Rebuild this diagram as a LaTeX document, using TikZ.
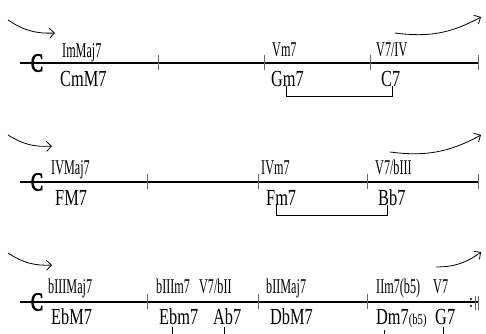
\documentclass[tikz,border=0pt]{standalone}
\usepackage{fontspec}
\setmainfont{Liberation Serif}
\newfontfamily\degreefont[FakeStretch=0.58]{Liberation Serif}
\newfontfamily\chordfont[FakeStretch=0.71]{Liberation Serif}
\newfontfamily\meterfont[FakeStretch=0.7,FakeBold=3]{Liberation Serif}
\usetikzlibrary{arrows.meta}

\tikzset{
  degree/.style={anchor=base west, inner sep=0pt, font=\degreefont\fontsize{21}{21}\selectfont},
  chord/.style={anchor=base west, inner sep=0pt, font=\chordfont\fontsize{23}{23}\selectfont},
  staff/.style={line width=1.3pt},
  barline/.style={line width=0.5pt, black!60},
  pair/.style={line width=0.8pt},
  flow/.style={-{Straight Barb[length=5pt,width=10pt]}, line width=0.8pt},
  meter/.style={inner sep=0pt, font=\meterfont\fontsize{26}{26}\selectfont}
}

\begin{document}
\begin{tikzpicture}[x=1pt, y=-1pt]
	\clip (0,0) rectangle (486,333);
	% first line
	\coordinate (s1a) at (20,63);
	\coordinate (s1b) at (478,63);
	\draw[staff] (s1a) -- (s1b);
	\node[meter] (ct1) at (37,63) {C};
	\foreach \x in {158,264,370,478} \draw[barline] (\x,55) -- (\x,70);
	\node[degree] (imaj) at (62,57) {ImMaj7};
	\node[chord] (cmm) at (60,86) {CmM7};
	\node[degree] (vm) at (272,56) {Vm7};
	\node[chord] (gm) at (271,86) {Gm7};
	\node[degree] (vofiv) at (376,56) {V7/IV};
	\node[chord] (cseven) at (381,86) {C7};
	\draw[pair] ([xshift=-1]gm.south) -- ++(0,10) -| ([xshift=2]cseven.south);
	\coordinate (in1) at (8,20);
	\coordinate (in1e) at (55,33);
	\coordinate (out1) at (395,33);
	\coordinate (out1e) at (481,17);
	\draw[flow] (in1) to[bend right=18] (in1e);
	\draw[flow] (out1) to[bend right=18] (out1e);

	% second line
	\coordinate (s2a) at (20,182);
	\coordinate (s2b) at (478,182);
	\draw[staff] (s2a) -- (s2b);
	\node[meter] (ct2) at (37,182) {C};
	\foreach \x in {147,258,367,478} \draw[barline] (\x,174) -- (\x,189);
	\node[degree] (ivmaj) at (51,174) {IVMaj7};
	\node[chord] (fmaj) at (55,205) {FM7};
	\node[degree] (ivm) at (261,174) {IVm7};
	\node[chord] (fm) at (266,205) {Fm7};
	\node[degree] (vofbiii) at (375,174) {V7/bIII};
	\node[chord] (bbseven) at (378,205) {Bb7};
	\draw[pair] ([xshift=-5]fm.south) -- ++(0,10) -| ([xshift=-4]bbseven.south);
	\coordinate (in2) at (8,135);
	\coordinate (in2e) at (52,146);
	\coordinate (out2) at (390,152);
	\coordinate (out2e) at (481,135);
	\draw[flow] (in2) to[bend right=18] (in2e);
	\draw[flow] (out2) to[bend right=18] (out2e);

	% third line
	\coordinate (s3a) at (20,302);
	\coordinate (s3b) at (478,302);
	\draw[staff] (s3a) -- (s3b);
	\node[meter] (ct3) at (37,302) {C};
	\foreach \x in {147,258,367} \draw[barline] (\x,294) -- (\x,309);
	\draw[barline] (475,296) -- (475,310);
	\draw[barline] (478,296) -- (478,310);
	\fill (471,299) circle (1.2);
	\fill (471,306) circle (1.2);
	\node[degree] (biiimaj) at (48,293) {bIIIMaj7};
	\node[chord] (ebmaj) at (51,324) {EbM7};
	\node[degree] (biiim) at (156,293) {bIIIm7};
	\node[chord] (ebm) at (159,324) {Ebm7};
	\node[degree] (vofbii) at (199,293) {V7/bII};
	\node[chord] (abseven) at (213,324) {Ab7};
	\node[degree] (biimaj) at (266,293) {bIIMaj7};
	\node[chord] (dbmaj) at (270,324) {DbM7};
	\node[degree] (iim) at (376,293) {IIm7(b5)};
	\node[degree] (vseven) at (433,293) {V7};
	\node[chord] (dm) at (376,324) {Dm7{\fontsize{15}{15}\selectfont(b5)}};
	\node[chord] (gseven) at (435,324) {G7};
	\draw[pair] ([xshift=-6,yshift=-3]ebm.south) -- ++(0,10) -| ([xshift=-3,yshift=-3]abseven.south);
	\draw[pair] ([xshift=-17,yshift=-3]dm.south) -- ++(0,10) -| ([xshift=-2,yshift=-3]gseven.south);
	\coordinate (in3) at (8,253);
	\coordinate (in3e) at (52,265);
	\coordinate (out3) at (436,267);
	\coordinate (out3e) at (481,252);
	\draw[flow] (in3) to[bend right=18] (in3e);
	\draw[flow] (out3) to[bend right=18] (out3e);
\end{tikzpicture}
\end{document}
